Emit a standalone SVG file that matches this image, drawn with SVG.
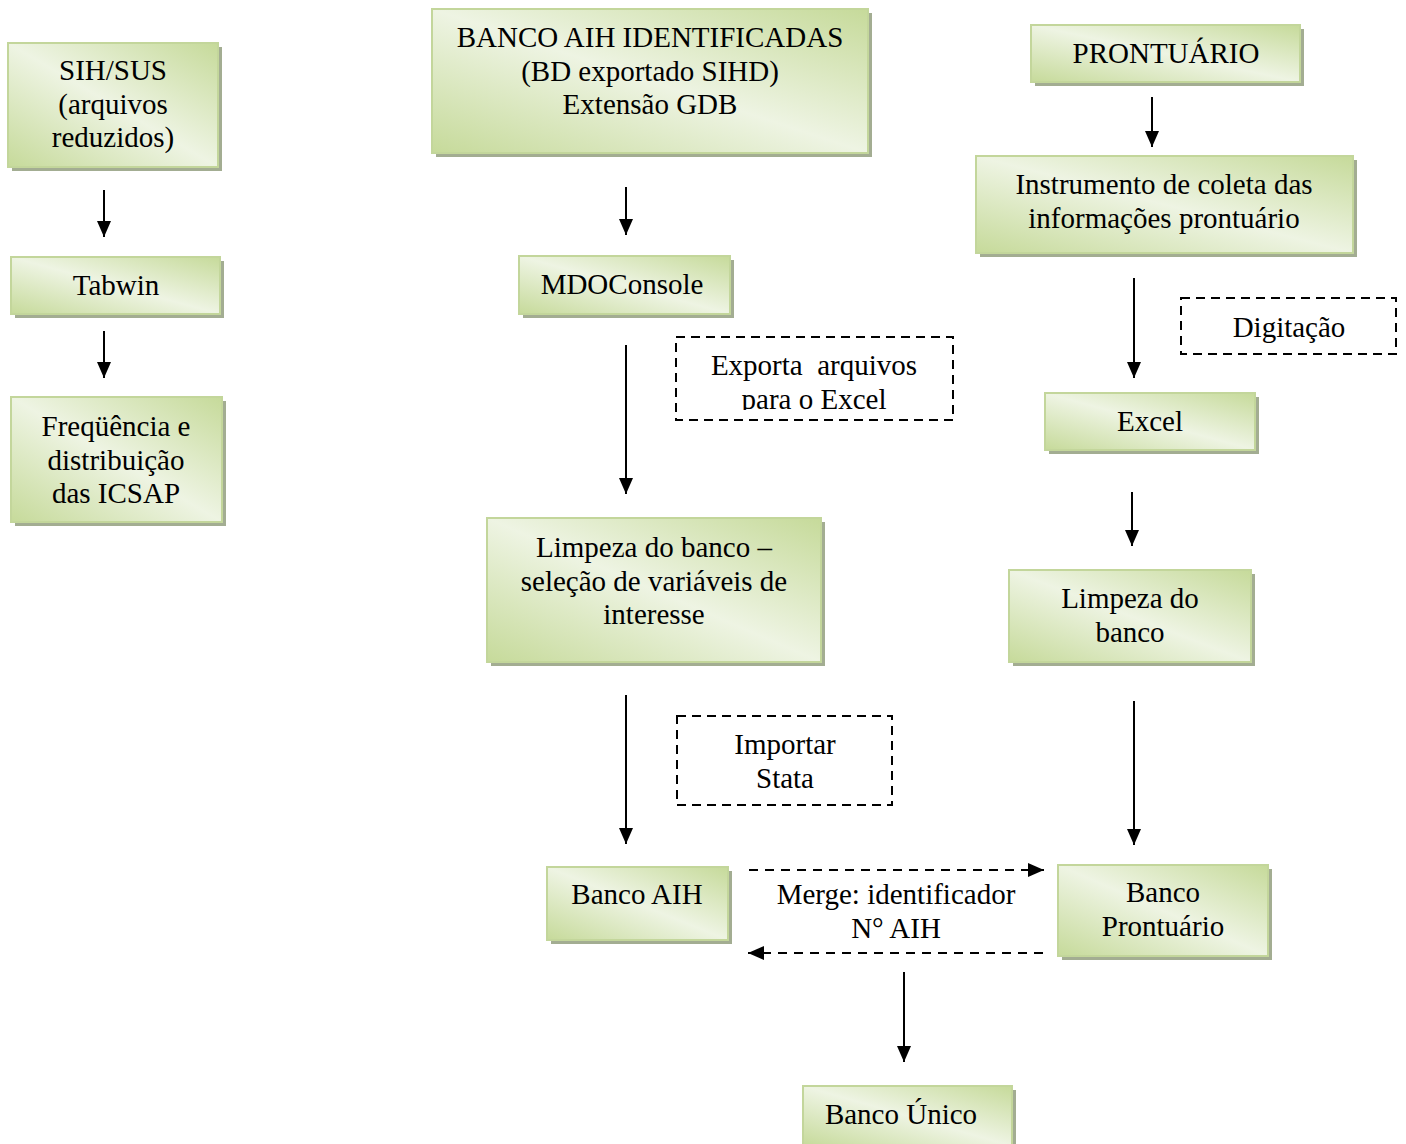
<svg xmlns="http://www.w3.org/2000/svg" width="1406" height="1144" viewBox="0 0 1406 1144">
<style>
.box{fill:url(#g);stroke:#c3d69b;stroke-width:2}
.sh{fill:#a3ad92}
.dash{fill:none;stroke:#000;stroke-width:2;stroke-dasharray:9,6}
.t{font-family:"Liberation Serif",Tinos,"Times New Roman",Times,serif;font-size:29px;fill:#000;text-anchor:middle}
.c{stroke:#000;stroke-width:2;fill:none}
.cd{stroke:#000;stroke-width:2;fill:none;stroke-dasharray:9,7}
</style>
<defs>
<linearGradient id="g" x1="0" y1="1" x2="1" y2="0">
<stop offset="0" stop-color="#c6da9a"/>
<stop offset="0.5" stop-color="#eef4e3"/>
<stop offset="1" stop-color="#c6da9a"/>
</linearGradient>
<marker id="ah" markerWidth="16" markerHeight="14" refX="16" refY="7" orient="auto" markerUnits="userSpaceOnUse" viewBox="0 0 16 14">
<path d="M0,0 L16,7 L0,14 z" fill="#000"/>
</marker>
<clipPath id="clipEx"><rect x="676" y="337" width="278" height="73"/></clipPath>
</defs>

<g id="connectors">
<line class="c" x1="104" y1="190" x2="104" y2="237" marker-end="url(#ah)"/>
<line class="c" x1="104" y1="331" x2="104" y2="378" marker-end="url(#ah)"/>
<line class="c" x1="626" y1="187" x2="626" y2="235" marker-end="url(#ah)"/>
<line class="c" x1="626" y1="345" x2="626" y2="494" marker-end="url(#ah)"/>
<line class="c" x1="626" y1="695" x2="626" y2="844" marker-end="url(#ah)"/>
<line class="c" x1="1152" y1="97" x2="1152" y2="147" marker-end="url(#ah)"/>
<line class="c" x1="1134" y1="278" x2="1134" y2="378" marker-end="url(#ah)"/>
<line class="c" x1="1132" y1="492" x2="1132" y2="546" marker-end="url(#ah)"/>
<line class="c" x1="1134" y1="701" x2="1134" y2="845" marker-end="url(#ah)"/>
<line class="c" x1="904" y1="972" x2="904" y2="1062" marker-end="url(#ah)"/>
<line class="cd" x1="749" y1="870" x2="1044" y2="870" marker-end="url(#ah)"/>
<line class="cd" x1="1043" y1="953" x2="748" y2="953" marker-end="url(#ah)"/>
<text class="t" x="896" y="904">Merge: identificador</text>
<text class="t" x="896" y="938">N° AIH</text>
</g>

<g id="n-sihsus">
<rect class="sh" x="12" y="47" width="210" height="124"/>
<rect class="box" x="8" y="43" width="210" height="124"/>
<text class="t" x="113" y="80">SIH/SUS</text>
<text class="t" x="113" y="114">(arquivos</text>
<text class="t" x="113" y="147">reduzidos)</text>
</g>
<g id="n-tabwin">
<rect class="sh" x="15" y="261" width="209" height="57"/>
<rect class="box" x="11" y="257" width="209" height="57"/>
<text class="t" x="116" y="295">Tabwin</text>
</g>
<g id="n-freq">
<rect class="sh" x="15" y="401" width="211" height="125"/>
<rect class="box" x="11" y="397" width="211" height="125"/>
<text class="t" x="116" y="436">Freqüência e</text>
<text class="t" x="116" y="470">distribuição</text>
<text class="t" x="116" y="503">das ICSAP</text>
</g>
<g id="n-bancoaih-id">
<rect class="sh" x="436" y="13" width="436" height="144"/>
<rect class="box" x="432" y="9" width="436" height="144"/>
<text class="t" x="650" y="47">BANCO AIH IDENTIFICADAS</text>
<text class="t" x="650" y="81">(BD exportado SIHD)</text>
<text class="t" x="650" y="114">Extensão GDB</text>
</g>
<g id="n-mdo">
<rect class="sh" x="523" y="260" width="211" height="58"/>
<rect class="box" x="519" y="256" width="211" height="58"/>
<text class="t" x="622" y="294">MDOConsole</text>
</g>
<g id="n-exporta">
<rect class="dash" x="676" y="337" width="277" height="83"/>
<g clip-path="url(#clipEx)">
<text class="t" x="814" y="375" xml:space="preserve">Exporta  arquivos</text>
<text class="t" x="814" y="409">para o Excel</text>
</g>
</g>
<g id="n-limpeza-aih">
<rect class="sh" x="491" y="522" width="334" height="144"/>
<rect class="box" x="487" y="518" width="334" height="144"/>
<text class="t" x="654" y="557">Limpeza do banco –</text>
<text class="t" x="654" y="591">seleção de variáveis de</text>
<text class="t" x="654" y="624">interesse</text>
</g>
<g id="n-importar">
<rect class="dash" x="677" y="716" width="215" height="89"/>
<text class="t" x="785" y="754">Importar</text>
<text class="t" x="785" y="788">Stata</text>
</g>
<g id="n-bancoaih">
<rect class="sh" x="551" y="871" width="181" height="73"/>
<rect class="box" x="547" y="867" width="181" height="73"/>
<text class="t" x="637" y="904">Banco AIH</text>
</g>
<g id="n-bancopront">
<rect class="sh" x="1062" y="869" width="210" height="91"/>
<rect class="box" x="1058" y="865" width="210" height="91"/>
<text class="t" x="1163" y="902">Banco</text>
<text class="t" x="1163" y="936">Prontuário</text>
</g>
<g id="n-bancounico">
<rect class="sh" x="807" y="1090" width="209" height="60"/>
<rect class="box" x="803" y="1086" width="209" height="60"/>
<text class="t" x="901" y="1124">Banco Único</text>
</g>
<g id="n-prontuario">
<rect class="sh" x="1035" y="29" width="269" height="57"/>
<rect class="box" x="1031" y="25" width="269" height="57"/>
<text class="t" x="1166" y="63">PRONTUÁRIO</text>
</g>
<g id="n-instrumento">
<rect class="sh" x="980" y="160" width="377" height="97"/>
<rect class="box" x="976" y="156" width="377" height="97"/>
<text class="t" x="1164" y="194">Instrumento de coleta das</text>
<text class="t" x="1164" y="228">informações prontuário</text>
</g>
<g id="n-digitacao">
<rect class="dash" x="1181" y="298" width="215" height="56"/>
<text class="t" x="1289" y="337">Digitação</text>
</g>
<g id="n-excel">
<rect class="sh" x="1049" y="397" width="210" height="57"/>
<rect class="box" x="1045" y="393" width="210" height="57"/>
<text class="t" x="1150" y="431">Excel</text>
</g>
<g id="n-limpeza-pront">
<rect class="sh" x="1013" y="574" width="242" height="92"/>
<rect class="box" x="1009" y="570" width="242" height="92"/>
<text class="t" x="1130" y="608">Limpeza do</text>
<text class="t" x="1130" y="642">banco</text>
</g>
</svg>
